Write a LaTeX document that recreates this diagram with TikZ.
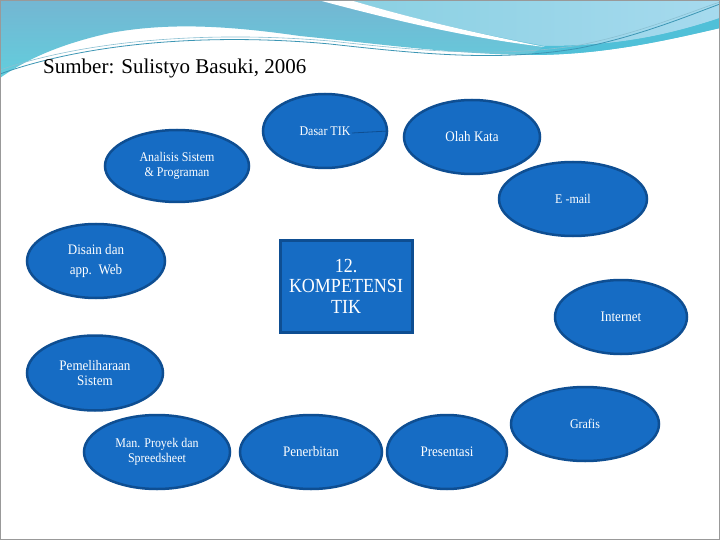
\documentclass[tikz,border=0pt]{standalone}
\usepackage{fontspec}
\setmainfont{Liberation Serif}
\newfontfamily\lbl[FakeStretch=0.9]{Liberation Serif}
\usetikzlibrary{shapes.geometric}
\definecolor{blu}{RGB}{22,108,196}
\definecolor{bord}{RGB}{14,78,146}
\definecolor{bandA}{RGB}{116,182,210}
\definecolor{bandB}{RGB}{98,206,221}
\definecolor{lightA}{RGB}{138,208,226}
\definecolor{lightB}{RGB}{166,218,238}
\definecolor{cyanS}{RGB}{80,192,216}
\definecolor{thinL}{RGB}{60,150,180}
\tikzset{
  bub/.style={ellipse, draw=bord, fill=blu, line width=2.5pt, text=white, inner sep=0pt, align=center,
    font=\lbl\fontsize{14.5}{15}\selectfont},
  sm/.style={font=\lbl\fontsize{13.3}{14.5}\selectfont},
  sz/.style 2 args={minimum width=#1pt, minimum height=#2pt},
  kbox/.style={rectangle, draw=bord, fill=blu, line width=3pt, text=white, inner sep=0pt, align=center,
    minimum width=132pt, minimum height=92pt, font=\lbl\fontsize{20}{20.5}\selectfont}
}
\begin{document}
\begin{tikzpicture}[x=1pt,y=-1pt]
\useasboundingbox (0,0) rectangle (720,540);
\fill[white] (0,0) rectangle (720,540);
% top decoration
\shade[top color=bandA, bottom color=bandB] (0,0) -- (720,0) -- (720,28)
  .. controls (660,42) and (600,55) .. (530,55)
  .. controls (450,54) and (380,44) .. (300,36)
  .. controls (230,26) and (170,22) .. (110,33)
  .. controls (60,44) and (25,60) .. (0,78) -- cycle;
\shade[left color=lightA, right color=lightB] (350,0) -- (720,0) -- (720,18)
  .. controls (660,38) and (610,46) .. (545,46)
  .. controls (470,32) and (410,18) .. (350,0) -- cycle;
\fill[cyanS] (545,46) .. controls (610,46) and (660,38) .. (720,18) -- (720,28)
  .. controls (660,42) and (600,55) .. (530,55) -- cycle;
\fill[white] (318,0) .. controls (400,22) and (470,38) .. (545,47)
  .. controls (470,32) and (410,18) .. (350,0) -- cycle;
\draw[thinL, line width=0.8pt] (0,74) .. controls (80,45) and (200,32) .. (330,44)
  .. controls (420,54) and (500,62) .. (580,48) .. controls (640,36) and (690,15) .. (720,4);
\draw[thinL!60, line width=0.6pt] (0,70) .. controls (80,42) and (200,30) .. (330,41)
  .. controls (420,51) and (500,58) .. (580,45) .. controls (640,33) and (690,12) .. (720,2);
\draw[gray!80, line width=1.2pt] (0,0) rectangle (720,540);
% title
\node[anchor=west, font=\fontsize{21}{24}\selectfont, inner sep=0pt] (title) at (43,68) {Sumber: Sulistyo Basuki, 2006};
% bubbles
\node[bub, sm, sz={124}{74}] (dasar) at (325,131) {Dasar TIK};
\node[bub, sz={136}{74}] (olah) at (472,137) {Olah Kata};
\node[bub, sm, sz={144}{72}] (anal) at (177,166) {Analisis Sistem\\\& Programan};
\node[bub, sm, sz={148}{74}] (email) at (573,199) {E -mail};
\node[bub, sz={138}{74}, font=\lbl\fontsize{14.5}{20}\selectfont] (disain) at (96,261) {Disain dan\\app.\ \ Web};
\node[kbox] (komp) at (346,286) {12.\\KOMPETENSI\\TIK};
\node[bub, sz={132}{74}] (inet) at (621,317) {Internet};
\node[bub, sz={136}{75}] (pemel) at (95,373) {Pemeliharaan\\Sistem};
\node[bub, sm, sz={148}{74}] (grafis) at (585,424) {Grafis};
\node[bub, sm, sz={146}{74}] (manp) at (157,452) {Man. Proyek dan\\Spreedsheet};
\node[bub, sz={142}{74}] (pener) at (311,452) {Penerbitan};
\node[bub, sz={120}{74}] (pres) at (447,452) {Presentasi};
% stray line in Dasar TIK
\coordinate (dtk) at (352,133);
\draw[bord, line width=0.8pt] (dtk) -- (dasar.east);
\end{tikzpicture}
\end{document}
